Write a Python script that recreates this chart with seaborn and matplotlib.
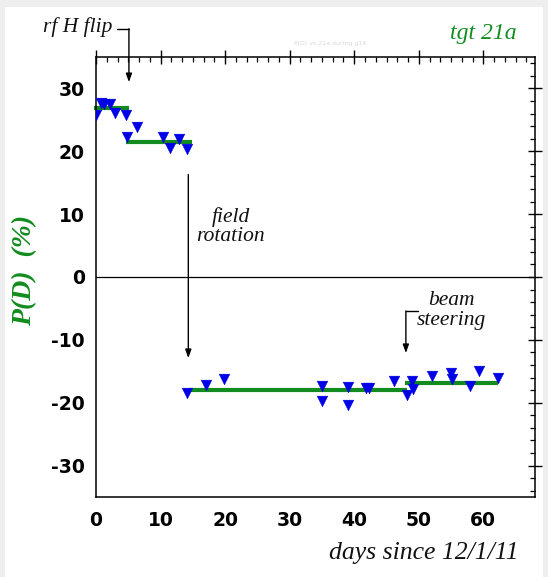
import matplotlib
matplotlib.use("Agg")
import matplotlib.pyplot as plt
from matplotlib.patches import Rectangle
from matplotlib.ticker import MultipleLocator
import numpy as np
import pandas as pd
import seaborn as sns

# Deuteron polarization measurements (target 21a)
days = [0.0, 0.7, 1.3, 2.1, 3.0, 4.6, 4.8, 6.3, 10.4, 11.4, 12.8, 14.1,
        14.1, 17.1, 19.9, 35.0, 35.0, 39.1, 39.1, 41.8, 42.3, 46.1, 48.1,
        49.0, 49.1, 52.1, 55.0, 55.1, 57.9, 59.3, 62.2]
polarization = [25.7, 27.7, 27.5, 27.5, 26.1, 25.7, 22.2, 23.8, 22.2, 20.6,
                22.0, 20.4, -18.5, -17.2, -16.2, -17.3, -19.8, -17.5, -20.3,
                -17.7, -17.7, -16.6, -18.7, -16.6, -17.8, -15.7, -15.3, -16.2,
                -17.3, -15.0, -16.0]

# Average polarization over each running period
seg_start = [-0.3, 4.7, 14.4, 47.8]
seg_end = [5.1, 14.8, 48.1, 62.3]
seg_level = [26.9, 21.4, -17.9, -16.8]

x_ticks = [0, 10, 20, 30, 40, 50, 60]
y_ticks = [-30, -20, -10, 0, 10, 20, 30]

sns.set_style("white")
plt.rcParams["font.family"] = ["DejaVu Sans"]
plt.rcParams["axes.unicode_minus"] = False
plt.rcParams["text.color"] = "black"
plt.rcParams["xtick.color"] = "black"
plt.rcParams["ytick.color"] = "black"
plt.rcParams["xtick.labelcolor"] = "black"
plt.rcParams["ytick.labelcolor"] = "black"

GREEN = "#128c1e"
SERIF = ["Liberation Serif", "DejaVu Serif"]

fig = plt.figure(figsize=(5.48, 5.77), dpi=100)
fig.patch.set_facecolor("#eeeeee")
fig.patches.append(Rectangle((5 / 548, 0), 538 / 548, 1 - 7 / 577,
                             transform=fig.transFigure, facecolor="white",
                             edgecolor="none", zorder=-10))

ax = fig.add_axes([96 / 548, 1 - 497 / 577, (535 - 96) / 548, (497 - 57) / 577])
ax.set_facecolor("white")

df = pd.DataFrame({"days": days, "pol": polarization})
seg = pd.DataFrame({"x0": seg_start, "x1": seg_end, "y": seg_level})

ax.axhline(0, color="black", lw=0.9, zorder=1)
ax.hlines(seg["y"], seg["x0"], seg["x1"], color=GREEN, lw=3.0, zorder=2,
          clip_on=False)
sns.scatterplot(data=df, x="days", y="pol", marker="v", s=60, color="#0000e6",
                edgecolor="#0000e6", linewidth=0.3, ax=ax, zorder=3,
                legend=False)

ax.set_xlim(0, 68)
ax.set_ylim(-35, 35)
ax.set_xticks(x_ticks)
ax.set_yticks(y_ticks)
ax.xaxis.set_minor_locator(MultipleLocator(10 / 6))
ax.yaxis.set_minor_locator(MultipleLocator(2))
ax.tick_params(which="major", direction="inout", length=10, width=1.0,
               top=True, right=True, labelsize=13.5, colors="black")
ax.tick_params(axis="x", which="major", pad=5)
ax.tick_params(axis="y", which="major", pad=3)
ax.tick_params(which="minor", direction="in", length=3.5, width=0.9,
               top=True, right=True, colors="black")
for lab in ax.get_xticklabels() + ax.get_yticklabels():
    lab.set_fontweight("bold")
for sp in ax.spines.values():
    sp.set_visible(True)
    sp.set_color("black")
    sp.set_linewidth(1.1)
ax.set_xlabel("")
ax.set_ylabel("")

arrow = dict(arrowstyle="-|>,head_length=0.5,head_width=0.18", color="black",
             lw=1.0, shrinkA=0, shrinkB=0)
note = dict(fontsize=15.5, style="italic", family=SERIF, color="#111111")

# rf H flip
ax.text(2.5, 39.7, "rf H flip", ha="right", va="center", clip_on=False,
        **note)
ax.plot([3.2, 5.1], [39.5, 39.5], color="black", lw=1.0, clip_on=False)
ax.annotate("", xy=(5.1, 31.0), xytext=(5.1, 39.5), arrowprops=arrow,
            annotation_clip=False)

# field rotation
ax.annotate("", xy=(14.3, -12.9), xytext=(14.3, 16.3), arrowprops=arrow)
ax.text(20.9, 9.6, "field", ha="center", va="center", **note)
ax.text(20.9, 6.4, "rotation", ha="center", va="center", **note)

# beam steering
ax.plot([48.0, 49.8], [-5.4, -5.4], color="black", lw=1.0)
ax.annotate("", xy=(48.0, -12.1), xytext=(48.0, -5.4), arrowprops=arrow)
ax.text(55.1, -3.8, "beam", ha="center", va="center", **note)
ax.text(55.1, -7.0, "steering", ha="center", va="center", **note)

ax.text(36.2, 37.2, "P(D) vs 21a during g14", ha="center", va="center",
        fontsize=4.5, color="#d8d8d8", clip_on=False)

fig.text(483 / 548, 1 - 33 / 577, "tgt 21a", ha="center", va="center",
         fontsize=17, style="italic", color=GREEN, family=SERIF)
fig.text(25 / 548, 1 - 270 / 577, "P(D)  (%)", ha="center", va="center",
         rotation=90, fontsize=20, style="italic", fontweight="bold",
         color=GREEN, family=SERIF)
fig.text(424 / 548, 1 - 553 / 577, "days since 12/1/11", ha="center",
         va="center", fontsize=18.5, style="italic", family=SERIF,
         color="#111111")

fig.savefig("out.png", dpi=100, facecolor=fig.get_facecolor())
